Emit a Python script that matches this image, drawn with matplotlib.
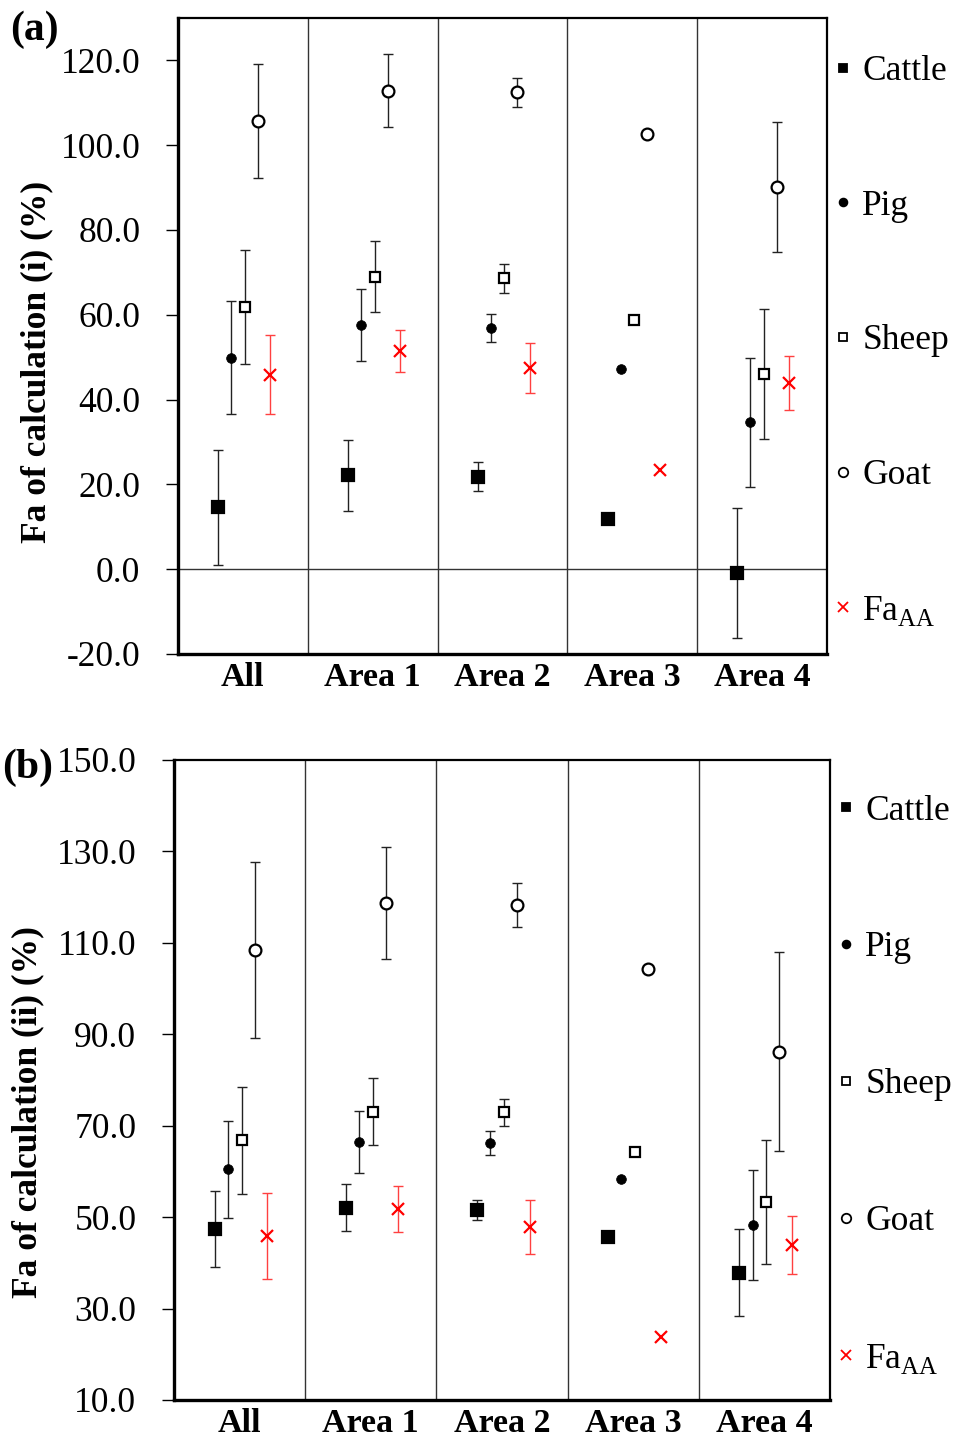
import numpy as np
import matplotlib
matplotlib.use('Agg')
import matplotlib.pyplot as plt
from matplotlib.lines import Line2D

# Fonte parecida com Times (Liberation Serif)
plt.rcParams['font.family'] = ['Liberation Serif', 'DejaVu Serif']
plt.rcParams['mathtext.fontset'] = 'custom'
plt.rcParams['mathtext.rm'] = 'Liberation Serif'

categorias = ['All', 'Area 1', 'Area 2', 'Area 3', 'Area 4']
series = ['Cattle', 'Pig', 'Sheep', 'Goat', 'FaAA']

# Painel (a): calculation (i)
cattle_a = [14.6, 22.1, 21.8, 11.9, -0.9]
pig_a = [49.9, 57.5, 56.9, 47.2, 34.6]
sheep_a = [61.8, 69.0, 68.6, 58.7, 46.0]
goat_a = [105.7, 112.9, 112.5, 102.7, 90.1]
faaa_a = [45.9, 51.5, 47.5, 23.5, 43.9]

cattle_a_err = [13.6, 8.3, 3.4, np.nan, 15.4]
pig_a_err = [13.4, 8.5, 3.4, np.nan, 15.3]
sheep_a_err = [13.5, 8.4, 3.4, np.nan, 15.3]
goat_a_err = [13.5, 8.5, 3.4, np.nan, 15.3]
faaa_a_err = [9.3, 4.9, 5.9, np.nan, 6.4]

# Painel (b): calculation (ii)
cattle_b = [47.4, 52.1, 51.6, 45.7, 37.8]
pig_b = [60.5, 66.4, 66.2, 58.4, 48.3]
sheep_b = [66.8, 73.1, 72.9, 64.2, 53.3]
goat_b = [108.4, 118.7, 118.2, 104.3, 86.2]
faaa_b = [45.9, 51.8, 47.8, 23.8, 43.9]

cattle_b_err = [8.3, 5.2, 2.2, np.nan, 9.5]
pig_b_err = [10.6, 6.8, 2.6, np.nan, 12.1]
sheep_b_err = [11.7, 7.4, 2.9, np.nan, 13.5]
goat_b_err = [19.2, 12.2, 4.8, np.nan, 21.7]
faaa_b_err = [9.4, 5.0, 5.9, np.nan, 6.4]

# estilo de cada serie: marcador, tamanho, preenchimento
estilos = {
    'Cattle': dict(marker='s', ms=8, mfc='black', mec='black'),
    'Pig': dict(marker='o', ms=7, mfc='black', mec='black'),
    'Sheep': dict(marker='s', ms=7, mfc='white', mec='black'),
    'Goat': dict(marker='o', ms=8.5, mfc='white', mec='black'),
    'FaAA': dict(marker='x', ms=8.5, mfc='red', mec='red'),
}
deslocamento = {'Cattle': -0.19, 'Pig': -0.09, 'Sheep': 0.015, 'Goat': 0.115, 'FaAA': 0.21}
rotulos = {'Cattle': 'Cattle', 'Pig': 'Pig', 'Sheep': 'Sheep', 'Goat': 'Goat',
           'FaAA': r'Fa$_{\mathregular{AA}}$'}

FONTE = 25.5


def desenhar_painel(ax, valores, erros, ylim, yticks, ylabel, zero_line, leg_y, leg_sp):
    x_centro = np.arange(len(categorias)) + 0.5
    for nome in series:
        st = estilos[nome]
        x = x_centro + deslocamento[nome]
        y = np.array(valores[nome])
        e = np.array(erros[nome])
        ok = ~np.isnan(e)
        cor_err = '#ff4040' if nome == 'FaAA' else '#222222'
        ax.errorbar(x[ok], y[ok], yerr=e[ok], fmt='none', ecolor=cor_err,
                    elinewidth=1.0, capsize=3.5, capthick=1.0, zorder=2)
        ax.plot(x, y, linestyle='none', marker=st['marker'], markersize=st['ms'],
                markerfacecolor=st['mfc'], markeredgecolor=st['mec'],
                markeredgewidth=1.6 if nome != 'Pig' else 0.5, zorder=3)

    # linhas separando as categorias
    for xs in range(1, len(categorias)):
        ax.axvline(xs, color='#333333', linewidth=1.0, zorder=1)
    if zero_line:
        ax.axhline(0, color='#333333', linewidth=1.0, zorder=1)

    ax.set_xlim(0, len(categorias))
    ax.set_ylim(*ylim)
    ax.set_yticks(yticks)
    ax.set_yticklabels([f'{v:.1f}' for v in yticks], fontsize=FONTE)
    ax.set_xticks(x_centro)
    ax.set_xticklabels(categorias, fontsize=24.5, fontweight='bold')
    ax.tick_params(axis='x', length=0, pad=6)
    ax.tick_params(axis='y', length=9, width=1, pad=18, direction='out')
    ax.set_ylabel(ylabel, fontsize=FONTE, fontweight='bold')

    for lado in ['left', 'bottom']:
        ax.spines[lado].set_linewidth(2.4)
    for lado in ['top', 'right']:
        ax.spines[lado].set_linewidth(1.6)

    # legenda na lateral direita
    handles = []
    for nome in series:
        st = estilos[nome]
        handles.append(Line2D([], [], linestyle='none', marker=st['marker'],
                              markersize=st['ms'] * 0.8, markerfacecolor=st['mfc'],
                              markeredgecolor=st['mec'], markeredgewidth=1.3,
                              label=rotulos[nome]))
    ax.legend(handles=handles, loc='upper left', bbox_to_anchor=(1.0, leg_y),
              frameon=False, fontsize=FONTE, handlelength=0.5, handletextpad=0.3,
              labelspacing=leg_sp, borderaxespad=0.2, borderpad=0)


fig = plt.figure(figsize=(9.54, 14.41), dpi=100)

ax_a = fig.add_axes([178 / 954, 1 - 654 / 1441, 649 / 954, 636 / 1441])
desenhar_painel(
    ax_a,
    {'Cattle': cattle_a, 'Pig': pig_a, 'Sheep': sheep_a, 'Goat': goat_a, 'FaAA': faaa_a},
    {'Cattle': cattle_a_err, 'Pig': pig_a_err, 'Sheep': sheep_a_err, 'Goat': goat_a_err, 'FaAA': faaa_a_err},
    (-20, 130), np.arange(-20, 121, 20), 'Fa of calculation (i) (%)', True, 0.953, 2.87)
ax_a.yaxis.set_label_coords(-0.192, 0.46)

ax_b = fig.add_axes([174 / 954, 1 - 1400 / 1441, 656 / 954, 640 / 1441])
desenhar_painel(
    ax_b,
    {'Cattle': cattle_b, 'Pig': pig_b, 'Sheep': sheep_b, 'Goat': goat_b, 'FaAA': faaa_b},
    {'Cattle': cattle_b_err, 'Pig': pig_b_err, 'Sheep': sheep_b_err, 'Goat': goat_b_err, 'FaAA': faaa_b_err},
    (10, 150), np.arange(10, 151, 20), 'Fa of calculation (ii) (%)', False, 0.957, 2.93)
ax_b.yaxis.set_label_coords(-0.197, 0.45)

fig.text(10 / 954, 1 - 30 / 1441, '(a)', fontsize=30, fontweight='bold', va='center', ha='left')
fig.text(2 / 954, 1 - 768 / 1441, '(b)', fontsize=30, fontweight='bold', va='center', ha='left')

fig.savefig('out.png', dpi=100)
